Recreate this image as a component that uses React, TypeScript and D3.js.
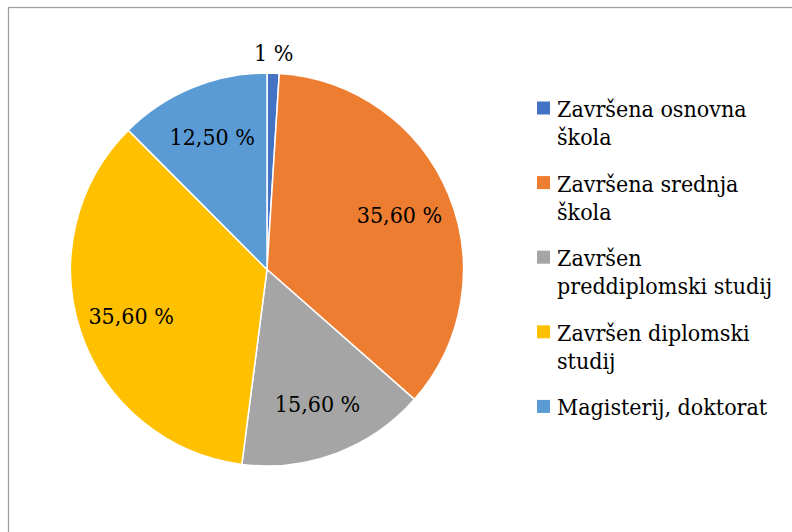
import React from "react";
import * as d3 from "d3";

const categories: string[][] = [
  ["Završena osnovna", "škola"],
  ["Završena srednja", "škola"],
  ["Završen", "preddiplomski studij"],
  ["Završen diplomski", "studij"],
  ["Magisterij, doktorat"],
];
const values: number[] = [1, 35.6, 15.6, 35.6, 12.5];
const labels: string[] = ["1 %", "35,60 %", "15,60 %", "35,60 %", "12,50 %"];
const colors: string[] = ["#4472C4", "#ED7D31", "#A5A5A5", "#FFC000", "#5B9BD5"];

const W = 792;
const H = 532;
const cx = 267;
const cy = 269.5;
const R = 196.5;
const FONT = "DejaVu Serif";
const FS = 23;

export default function App() {
  const idx = values.map((_, i) => i);
  const pie = d3
    .pie<number>()
    .sort(null)
    .value((i) => values[i]);
  const arcs = pie(idx);
  const arc = d3.arc<d3.PieArcDatum<number>>().innerRadius(0).outerRadius(R);
  const total = d3.sum(values);
  const inLabelArc = d3
    .arc<d3.PieArcDatum<number>>()
    .innerRadius(R * 0.73)
    .outerRadius(R * 0.73);

  const legendX = 537;
  const legendY0 = 108;
  const legendStep = 74.6;
  const lineH = 28;
  const textStyle = {
    fontFamily: FONT,
    fontSize: FS,
    fontStretch: "condensed",
  } as React.CSSProperties;

  return (
    <svg
      width={W}
      height={H}
      style={{ position: "absolute", left: 0, top: 0, background: "#fff" }}
    >
      <rect x={8.5} y={7.5} width={1000} height={1000} fill="#fff" stroke="#a0a0a0" strokeWidth={1.3} />
      <g transform={`translate(${cx},${cy})`}>
        {arcs.map((a) => (
          <path key={a.index} d={arc(a) || ""} fill={colors[a.data]} stroke="#fff" strokeWidth={1.5} />
        ))}
        {arcs.map((a) => {
          const frac = values[a.data] / total;
          let x: number, y: number;
          if (frac < 0.03) {
            const mid = (a.startAngle + a.endAngle) / 2;
            const rr = R + 20;
            x = Math.sin(mid) * rr;
            y = -Math.cos(mid) * rr;
          } else {
            [x, y] = inLabelArc.centroid(a);
          }
          return (
            <text
              key={"l" + a.index}
              x={x}
              y={y}
              dy="0.35em"
              textAnchor="middle"
              style={textStyle}
              fill="#000"
            >
              {labels[a.data]}
            </text>
          );
        })}
      </g>
      {categories.map((lines, i) => {
        const yc = legendY0 + i * legendStep;
        return (
          <g key={"lg" + i}>
            <rect x={legendX} y={yc - 6.5} width={13} height={13} fill={colors[i]} />
            {lines.map((t, j) => (
              <text
                key={j}
                x={legendX + 20}
                y={yc + 9 + j * lineH}
                style={textStyle}
                fill="#000"
              >
                {t}
              </text>
            ))}
          </g>
        );
      })}
    </svg>
  );
}
